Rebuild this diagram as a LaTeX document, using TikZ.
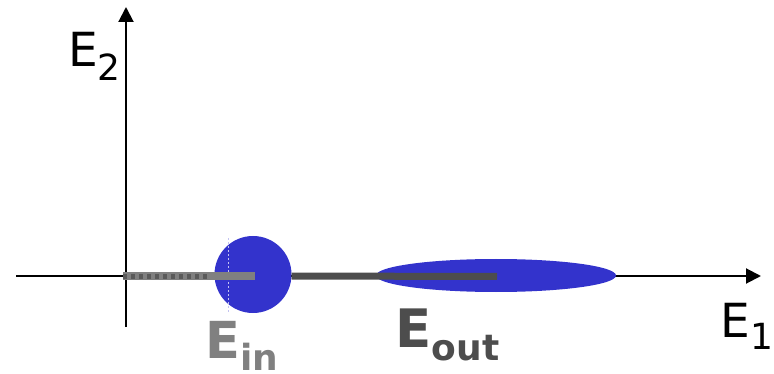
\documentclass[tikz,border=0pt]{standalone}
\usepackage{fontspec}
\setmainfont{DejaVu Sans}
\usetikzlibrary{shapes.geometric,arrows.meta}
\definecolor{blobblue}{HTML}{3333CC}
\definecolor{ingray}{HTML}{808080}
\definecolor{outgray}{HTML}{4D4D4D}
\definecolor{dotgray}{HTML}{5A5A5A}
\tikzset{
  axis/.style={line width=2pt,-{Triangle[length=15pt,width=15pt]}},
  blob/.style={fill=blobblue,draw=none,inner sep=0pt},
  lbl/.style={anchor=base west,inner sep=0pt,outer sep=0pt},
}
\begin{document}
\begin{tikzpicture}[x=1pt,y=-1pt]
\useasboundingbox (0,0) rectangle (774,374);
% axes
\coordinate (o) at (126,276);
\coordinate (xl) at (16,276);
\coordinate (xr) at (761,276);
\coordinate (yb) at (126,327);
\coordinate (yt) at (126,7);
\draw[axis] (xl) -- (xr);
\draw[axis] (yb) -- (yt);
% blobs
\node[blob,ellipse,minimum width=240pt,minimum height=33pt] (eout) at (496,275.5) {};
\coordinate (eoutend) at (497,276.5);
\node[blob,circle,minimum size=77pt] (ein) at (253,274.5) {};
\coordinate (einend) at (255,276.5);
\coordinate (bstart) at (123,276.5);
\coordinate (dend) at (207,276.5);
\draw[white!70!blobblue,line width=0.6pt,dash pattern=on 2pt off 2pt] (228,238) -- (228,312);
% bars
\draw[outgray,line width=7pt] (ein.east) ++(0,1.5) -- (eoutend);
\draw[ingray,line width=8pt] (bstart) -- (einend);
\draw[dotgray,line width=5pt,dash pattern=on 4pt off 4pt] (bstart) -- (dend);
% labels
\node[lbl] (e2) at (68,67) {\fontsize{47}{47}\selectfont E\raisebox{-14pt}{\fontsize{36}{36}\selectfont 2}};
\node[lbl] (e1) at (720.5,337) {\fontsize{47}{47}\selectfont E\raisebox{-13pt}{\fontsize{36}{36}\selectfont 1}};
\node[lbl,text=ingray] (ein lbl) at (205.5,358) {\bfseries\fontsize{51}{51}\selectfont E\raisebox{-12pt}{\fontsize{36}{36}\selectfont in}};
\node[lbl,text=outgray] (eout lbl) at (395.5,347) {\bfseries\fontsize{53}{53}\selectfont E\raisebox{-13pt}{\fontsize{36}{36}\selectfont out}};
\end{tikzpicture}
\end{document}
